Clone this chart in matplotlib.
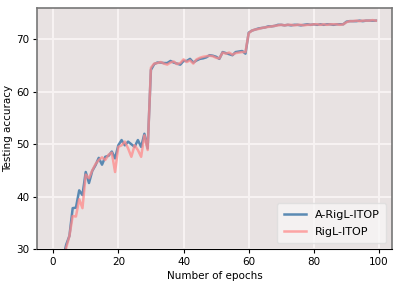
import numpy as np
import matplotlib
matplotlib.use("Agg")
import matplotlib.pyplot as plt

# Testing accuracy per epoch
epochs = np.arange(100)

a_rigl_itop = [
    17.5, 21.5, 25.0, 28.0, 30.8, 32.5, 37.8, 37.9, 41.2, 40.3,
    44.7, 42.6, 44.9, 46.0, 47.4, 46.1, 47.6, 47.8, 48.6, 47.3,
    49.8, 50.8, 49.8, 50.5, 50.0, 49.5, 50.8, 49.5, 52.0, 49.2,
    64.2, 65.3, 65.6, 65.6, 65.5, 65.5, 65.9, 65.6, 65.4, 65.2,
    65.9, 65.9, 66.3, 65.6, 66.0, 66.3, 66.4, 66.6, 67.0, 66.9,
    66.7, 66.3, 67.6, 67.4, 67.2, 67.0, 67.6, 67.7, 67.8, 67.3,
    71.3, 71.7, 71.9, 72.1, 72.2, 72.3, 72.5, 72.5, 72.6, 72.8,
    72.8, 72.7, 72.8, 72.7, 72.8, 72.8, 72.7, 72.8, 72.9, 72.8,
    72.9, 72.8, 72.9, 72.8, 72.9, 72.9, 72.8, 72.9, 72.9, 72.9,
    73.4, 73.5, 73.5, 73.5, 73.6, 73.5, 73.6, 73.6, 73.6, 73.6,
]

rigl_itop = [
    17.0, 21.0, 24.5, 27.5, 30.2, 32.5, 36.3, 36.2, 39.5, 37.8,
    44.2, 43.5, 45.0, 46.2, 47.0, 47.5, 47.0, 48.0, 48.4, 44.7,
    49.5, 49.8, 50.5, 49.2, 47.6, 49.8, 48.9, 47.6, 51.7, 48.9,
    64.6, 65.4, 65.5, 65.7, 65.4, 65.2, 65.6, 65.8, 65.3, 65.5,
    66.2, 65.7, 66.0, 65.4, 66.2, 66.5, 66.7, 66.8, 66.9, 66.8,
    66.5, 66.4, 67.5, 67.3, 67.5, 67.1, 67.4, 67.5, 67.6, 67.6,
    71.2, 71.7, 71.9, 72.0, 72.2, 72.3, 72.4, 72.5, 72.6, 72.7,
    72.8, 72.7, 72.8, 72.8, 72.7, 72.8, 72.8, 72.7, 72.8, 72.8,
    72.9, 72.9, 72.8, 72.9, 72.8, 72.9, 72.9, 72.9, 72.8, 72.9,
    73.3, 73.5, 73.5, 73.6, 73.5, 73.6, 73.6, 73.6, 73.7, 73.6,
]

fig = plt.figure(figsize=(3.99, 2.91), dpi=100)
ax = fig.add_axes([0.0927, 0.1443, 0.8897, 0.828])
ax.set_facecolor("#E8E2E2")

ax.plot(epochs, a_rigl_itop, color="#4A7FAD", lw=1.8, alpha=0.9, label="A-RigL-ITOP")
ax.plot(epochs, rigl_itop, color="#FF8A8A", lw=1.8, alpha=0.75, label="RigL-ITOP")

ax.set_ylim(30, 76)
ax.set_xticks([0, 20, 40, 60, 80, 100])
ax.set_yticks([30, 40, 50, 60, 70])
ax.grid(True, color="#F7F2F2", lw=1.5)
ax.set_axisbelow(True)

for s in ["top", "right", "left"]:
    ax.spines[s].set_color("#777777")
    ax.spines[s].set_linewidth(1.2)
ax.spines["bottom"].set_color("black")

ax.tick_params(labelsize=7.5, length=3, width=0.8, pad=2.5)
ax.set_xlabel("Number of epochs", fontsize=7.5, labelpad=3)
ax.set_ylabel("Testing accuracy", fontsize=7.5, labelpad=2)

leg = ax.legend(loc="lower right", fontsize=8, frameon=True, fancybox=True,
                borderpad=0.6, labelspacing=0.6)
leg.get_frame().set_facecolor("#F8F6F6")
leg.get_frame().set_edgecolor("#DDDDDD")

fig.savefig("out.png", dpi=100)
